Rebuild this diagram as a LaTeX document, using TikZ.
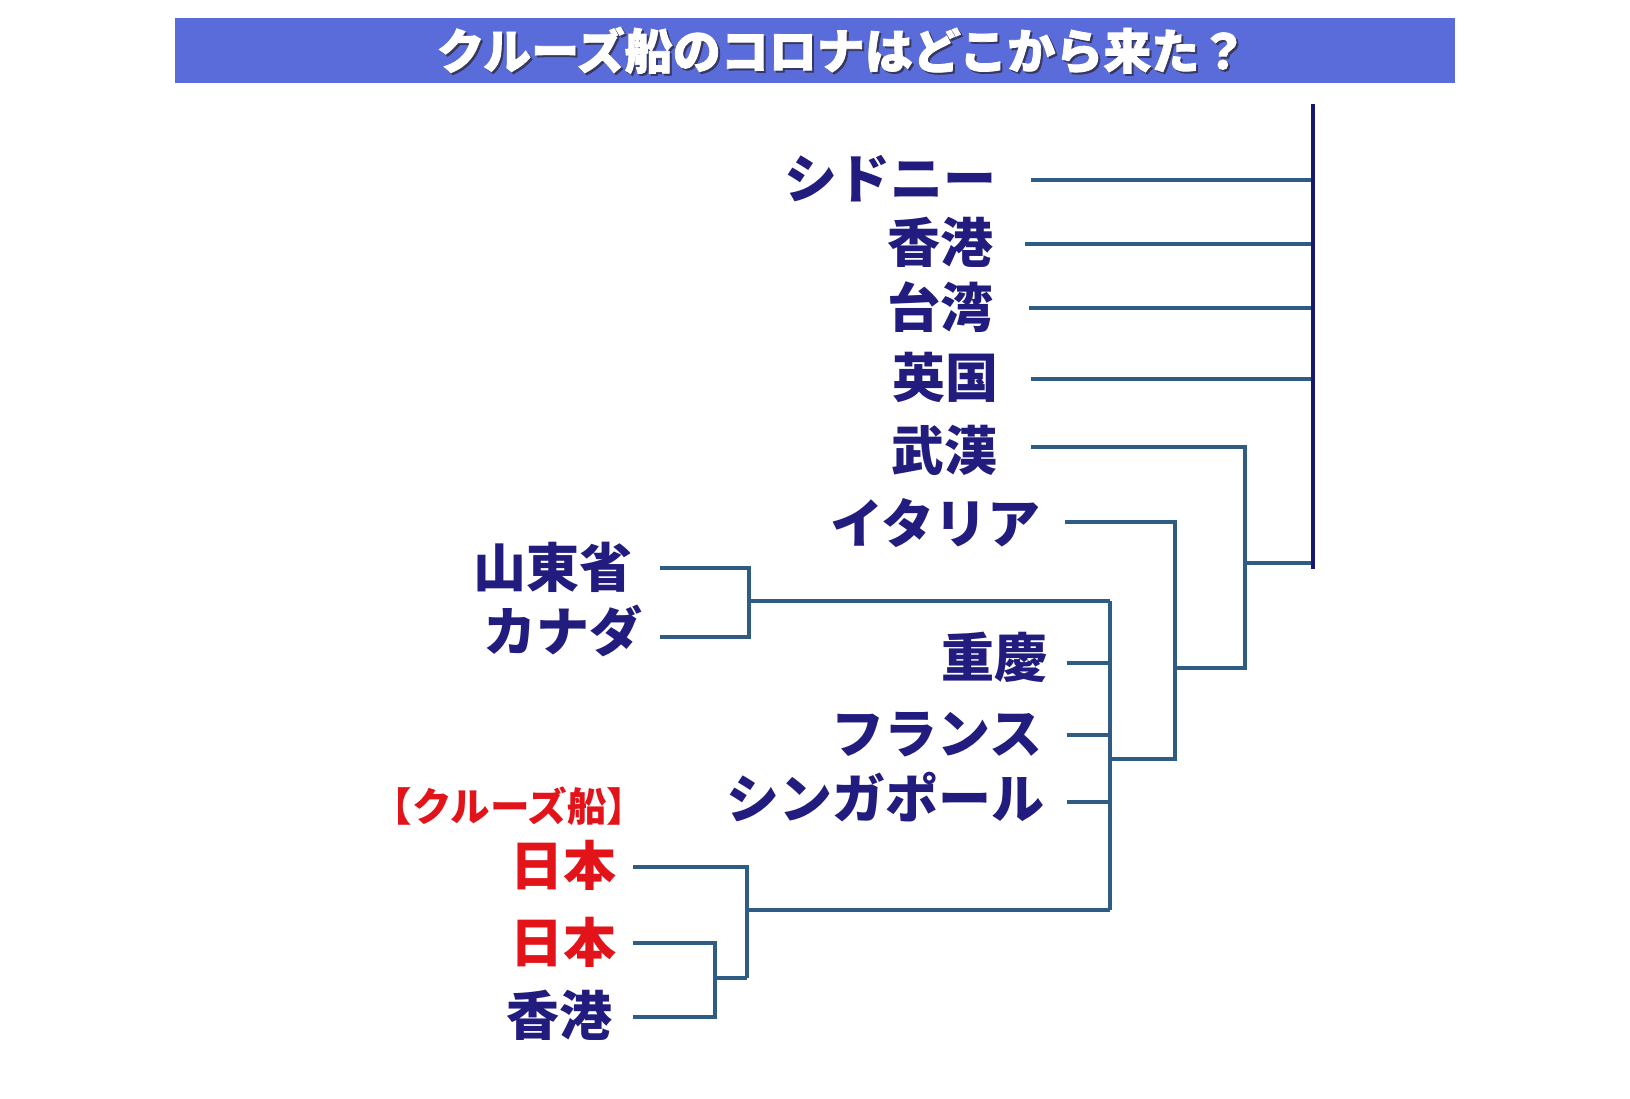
\documentclass[tikz,border=0pt]{standalone}
\usepackage{fontspec}
\setmainfont{Noto Sans CJK JP}
\newfontfamily\titlefont{Noto Sans CJK JP}[BoldFeatures={FakeBold=1.6}]
\definecolor{barblue}{RGB}{90,108,218}
\definecolor{navy}{RGB}{33,28,125}
\definecolor{linkblue}{RGB}{46,92,130}
\definecolor{trunk}{RGB}{26,24,110}
\definecolor{jpred}{RGB}{226,20,26}
\definecolor{shade}{RGB}{55,55,95}
\begin{document}
\begin{tikzpicture}[x=0.5pt,y=-0.5pt,
  lbl/.style={font=\bfseries\fontsize{26.5}{30}\selectfont, text=navy, anchor=base east, inner sep=0pt},
  redlbl/.style={lbl, text=jpred},
  smallred/.style={lbl, text=jpred, font=\bfseries\fontsize{19.8}{24}\selectfont},
  ttl/.style={font=\titlefont\bfseries\fontsize{24}{28}\selectfont, anchor=base, inner sep=0pt},
  conn/.style={draw=linkblue, line width=2pt, line join=miter},
  trunkline/.style={draw=trunk, line width=2.2pt}]
\useasboundingbox (0,0) rectangle (1630,1099);
\fill[white] (0,0) rectangle (1630,1099);
% title bar
\fill[barblue] (175,18) rectangle (1455,83);
\node[ttl, text=shade] (titleshadow) at (844,71) {クルーズ船のコロナはどこから来た？};
\node[ttl, text=white] (title) at (842,69) {クルーズ船のコロナはどこから来た？};
% labels
\node[lbl] (sy) at (997,198) {シドニー};
\node[lbl] (hk1) at (994,262) {香港};
\node[lbl] (tw) at (994,327) {台湾};
\node[lbl] (uk) at (999,397) {英国};
\node[lbl] (wh) at (998,470) {武漢};
\node[lbl] (it) at (1041,543) {イタリア};
\node[lbl] (sd) at (633,587) {山東省};
\node[lbl] (ca) at (643,651) {カナダ};
\node[lbl] (cq) at (1048,677) {重慶};
\node[lbl] (fr) at (1043,753) {フランス};
\node[lbl] (sg) at (1045,818) {シンガポール};
\node[smallred] (cruise) at (647,821) {【クルーズ船】};
\node[redlbl] (jp1) at (617,885) {日本};
\node[redlbl] (jp2) at (617,962) {日本};
\node[lbl] (hk2) at (613,1035) {香港};
% coordinates
\coordinate (root-top) at (1313,104);
\coordinate (root-bot) at (1313,569);
\coordinate (sy-l) at (1031,180);
\coordinate (hk1-l) at (1025,244);
\coordinate (tw-l) at (1029,308);
\coordinate (uk-l) at (1031,379);
\coordinate (wh-l) at (1031,447);
\coordinate (it-l) at (1065,522);
\coordinate (j1) at (1245,563);
\coordinate (j1b) at (1245,668);
\coordinate (j2) at (1175,759);
\coordinate (j3) at (1110,759);
\coordinate (b3top) at (1110,601);
\coordinate (b3bot) at (1110,910);
\coordinate (cq-l) at (1067,663);
\coordinate (fr-l) at (1067,735);
\coordinate (sg-l) at (1067,802);
\coordinate (sd-l) at (660,568);
\coordinate (ca-l) at (660,637);
\coordinate (sd-j) at (749,601);
\coordinate (jp1-l) at (633,867);
\coordinate (jp2-l) at (633,943);
\coordinate (hk2-l) at (633,1017);
\coordinate (jp-j) at (747,910);
\coordinate (jp-jbot) at (747,978);
\coordinate (hk-j) at (715,978);
% connectors
\draw[conn] (sy-l) -- (sy-l -| root-top);
\draw[conn] (hk1-l) -- (hk1-l -| root-top);
\draw[conn] (tw-l) -- (tw-l -| root-top);
\draw[conn] (uk-l) -- (uk-l -| root-top);
\draw[conn] (wh-l) -- (wh-l -| j1) -- (j1b) -- (j1b -| j2);
\draw[conn] (j1) -- (j1 -| root-top);
\draw[conn] (it-l) -- (it-l -| j2) -- (j2) -- (j3);
\draw[conn] (b3top) -- (b3bot);
\draw[conn] (cq-l) -- (cq-l -| b3top);
\draw[conn] (fr-l) -- (fr-l -| b3top);
\draw[conn] (sg-l) -- (sg-l -| b3top);
\draw[conn] (sd-l) -- (sd-l -| sd-j) -- (ca-l -| sd-j) -- (ca-l);
\draw[conn] (sd-j) -- (b3top);
\draw[conn] (jp1-l) -- (jp1-l -| jp-j) -- (jp-jbot);
\draw[conn] (jp-j) -- (b3bot);
\draw[conn] (jp2-l) -- (jp2-l -| hk-j) -- (hk2-l -| hk-j) -- (hk2-l);
\draw[conn] (hk-j) -- (jp-jbot);
\draw[trunkline] (root-top) -- (root-bot);
\end{tikzpicture}
\end{document}
